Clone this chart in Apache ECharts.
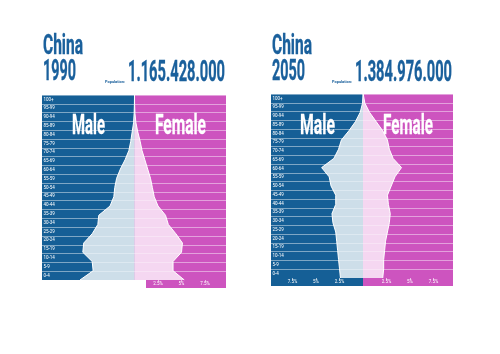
<!DOCTYPE html>
<html>
<head>
<meta charset="utf-8">
<script src="https://cdn.jsdelivr.net/npm/echarts@6/dist/echarts.min.js"></script>
<style>
  html, body { margin: 0; padding: 0; background: #fff; }
  #chart { width: 500px; height: 354px; }
</style>
</head>
<body>
<div id="chart"></div>
<script>
// age groups, bottom to top
const ageGroups = ['0-4', '5-9', '10-14', '15-19', '20-24', '25-29', '30-34', '35-39', '40-44', '45-49',
  '50-54', '55-59', '60-64', '65-69', '70-74', '75-79', '80-84', '85-89', '90-94', '95-99', '100+'];

// share of total population, %
const male1990 = [5.8, 4.4, 4.5, 5.5, 5.4, 4.5, 3.9, 3.8, 2.6, 2.2, 2.1, 1.9, 1.5, 1.0, 0.6, 0.4, 0.25, 0.1, 0.04, 0.01, 0];
const female1990 = [5.3, 4.1, 4.1, 5.0, 5.1, 4.4, 3.6, 3.3, 2.5, 2.1, 1.9, 1.7, 1.4, 1.1, 0.8, 0.6, 0.35, 0.15, 0.05, 0.01, 0];
const male2050 = [2.4, 2.5, 2.6, 2.7, 2.8, 2.9, 3.2, 3.3, 2.9, 2.9, 3.4, 3.6, 4.4, 3.1, 2.6, 2.3, 1.5, 0.8, 0.3, 0.05, 0];
const female2050 = [2.1, 2.2, 2.2, 2.3, 2.4, 2.6, 2.8, 2.9, 2.7, 2.6, 3.0, 3.4, 4.1, 3.2, 2.8, 2.6, 2.1, 1.4, 0.7, 0.2, 0.02];

const years = ['1990', '2050'];
const populations = ['1.165.428.000', '1.384.976.000'];
const tickStep = 2.5;

const BLUE = '#155f96';
const PINK = '#cd54bf';
const TITLE = '#1a609c';
const PX_PER_PCT = 9.4;

// layout of the two pyramids
const panels = [
  { top: 95, height: 185, left: 42, mid: 134.5, right: 226, stripLeft: 146, maleTicks: false,
    male: male1990, female: female1990 },
  { top: 94, height: 184, left: 271, mid: 363, right: 453, stripLeft: 271, maleTicks: true,
    male: male2050, female: female2050 }
];

const measure = document.createElement('canvas').getContext('2d');
function tallText(text, left, capTop, capBottom, width, color, weight) {
  const size = (capBottom - capTop) / 0.711;
  const font = 'bold ' + size.toFixed(2) + 'px Roboto';
  measure.font = font;
  const w = measure.measureText(text).width;
  return {
    type: 'text', x: left, y: (capTop + capBottom) / 2, scaleX: width / w, z: 20, silent: true,
    style: { text: text, font: font, fill: color, stroke: weight ? color : null, lineWidth: weight || 0,
      textAlign: 'left', textVerticalAlign: 'middle', align: 'left', verticalAlign: 'middle' }
  };
}

const grid = [], xAxis = [], yAxis = [], series = [], graphic = [];

panels.forEach((p, k) => {
  const sides = [
    { name: 'male', left: p.left, width: p.mid - p.left, color: BLUE, fill: 'rgba(237,244,248,0.85)', data: p.male, inverse: true },
    { name: 'female', left: p.mid, width: p.right - p.mid, color: PINK, fill: 'rgba(252,239,249,0.85)', data: p.female, inverse: false }
  ];
  sides.forEach((s, j) => {
    const g = grid.length;
    grid.push({ left: s.left, top: p.top, width: s.width, height: p.height, show: true,
      backgroundColor: s.color, borderWidth: 0, containLabel: false });
    const ticks = j === 1 || p.maleTicks;
    xAxis.push({
      gridIndex: g, type: 'value', min: 0, max: s.width / PX_PER_PCT, interval: tickStep, inverse: s.inverse, z: 15,
      axisLine: { show: false }, splitLine: { show: false },
      axisTick: { show: ticks, length: 1.5, lineStyle: { color: '#fff', width: 0.6 } },
      axisLabel: { show: ticks, showMinLabel: false, showMaxLabel: false, color: '#fff', fontSize: 4.5,
        fontFamily: 'Roboto', margin: 1.5, formatter: v => v + '%' }
    });
    const ya = yAxis.length;
    yAxis.push({
      gridIndex: g, type: 'category', data: ageGroups, boundaryGap: true,
      axisLine: { show: false }, axisTick: { show: false },
      axisLabel: j === 0 ? { inside: true, interval: 0, color: '#fff', fontSize: 4.5, fontFamily: 'Roboto', margin: 1.5 } : { show: false },
      splitLine: { show: true, interval: 0, lineStyle: { color: 'rgba(255,255,255,0.45)', width: 1 } }
    });
    yAxis.push({ gridIndex: g, type: 'category', data: ageGroups, boundaryGap: false, show: false });
    series.push({
      name: s.name + ' ' + years[k], type: 'line', xAxisIndex: g, yAxisIndex: ya + 1, data: s.data,
      symbol: 'none', silent: true, z: 3,
      lineStyle: { color: '#fff', width: 1 },
      areaStyle: { color: s.fill, opacity: 1 }
    });
  });

  // axis label strip under the pyramid
  const sy = p.top + p.height;
  if (p.maleTicks) {
    graphic.push({ type: 'rect', z: 1, silent: true, shape: { x: p.stripLeft, y: sy, width: p.mid - p.stripLeft, height: 8 }, style: { fill: BLUE } });
    graphic.push({ type: 'rect', z: 1, silent: true, shape: { x: p.mid, y: sy, width: p.right - p.mid, height: 8 }, style: { fill: PINK } });
  } else {
    graphic.push({ type: 'rect', z: 1, silent: true, shape: { x: p.stripLeft, y: sy, width: p.right - p.stripLeft, height: 8 }, style: { fill: PINK } });
  }
});

// titles
graphic.push(tallText('China', 43, 37, 57, 40, TITLE, 0.4));
graphic.push(tallText(years[0], 43, 63, 83.5, 33, TITLE, 0.4));
graphic.push(tallText('Population:', 105, 80.5, 83.5, 20, TITLE));
graphic.push(tallText(populations[0], 128, 63, 84, 97, TITLE, 0.4));
graphic.push(tallText('China', 272, 37, 57, 40, TITLE, 0.4));
graphic.push(tallText(years[1], 272, 63, 83.5, 33, TITLE, 0.4));
graphic.push(tallText('Population:', 332, 80.5, 83.5, 20, TITLE));
graphic.push(tallText(populations[1], 355, 63, 84, 97, TITLE, 0.4));
graphic.push(tallText('Male', 72, 117, 137, 33, '#fff', 0.3));
graphic.push(tallText('Female', 155, 117, 137, 51, '#fff', 0.3));
graphic.push(tallText('Male', 300, 117, 137, 35, '#fff', 0.3));
graphic.push(tallText('Female', 383, 117, 137, 50, '#fff', 0.3));

const chart = echarts.init(document.getElementById('chart'), null, { renderer: 'canvas' });
chart.setOption({
  animation: false,
  backgroundColor: '#fff',
  grid: grid,
  xAxis: xAxis,
  yAxis: yAxis,
  series: series,
  graphic: graphic
});
</script>
</body>
</html>
